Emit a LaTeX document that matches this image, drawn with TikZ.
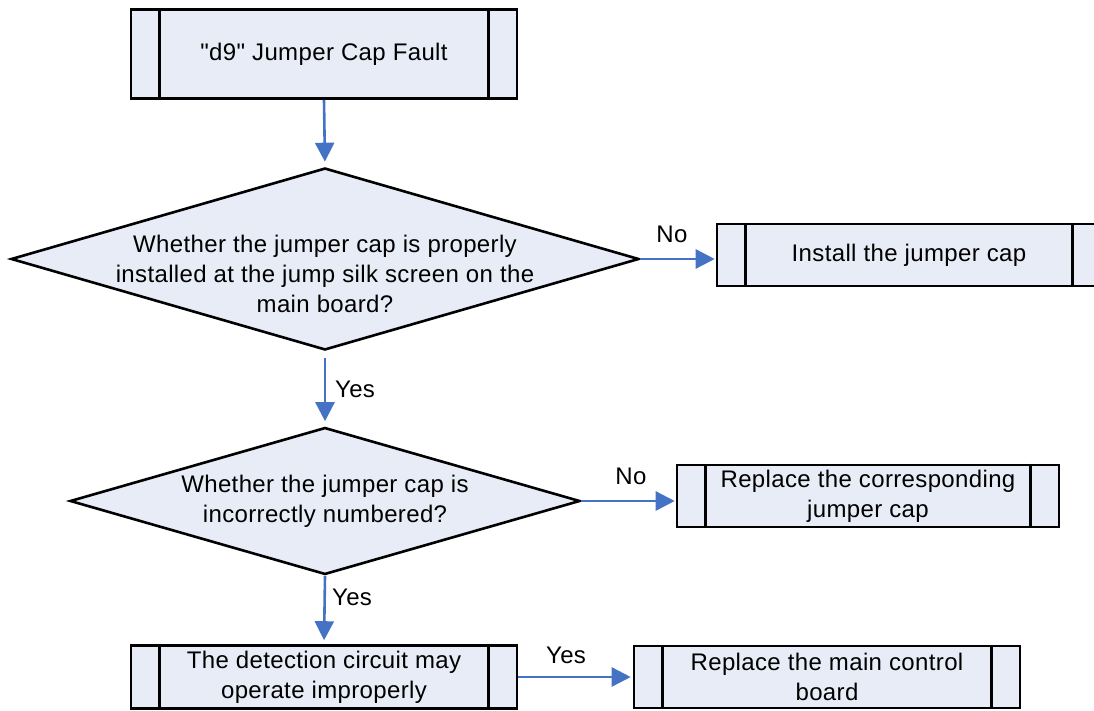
\documentclass[tikz,border=0pt]{standalone}
\usepackage{fontspec}
\setmainfont{Liberation Sans}[Ligatures=TeXOff, LetterSpace=1.5]
\usetikzlibrary{arrows.meta, shapes.geometric}
\usepackage{xcolor}
\definecolor{caixaazul}{RGB}{231, 236, 246}
\definecolor{setaazul}{RGB}{68, 114, 196}

\begin{document}
\begin{tikzpicture}[
    x=1pt, y=-1pt,
    every node/.style={font=\fontsize{24}{30}\selectfont, align=center},
    processo/.style={draw=black, line width=2.6pt, fill=caixaazul, inner sep=0pt},
    decisao/.style={diamond, draw=black, line width=2.6pt, fill=caixaazul, inner sep=0pt},
    seta/.style={draw=setaazul, line width=2.6pt, -{Triangle[length=19pt, width=19pt]}},
    rotulo/.style={inner sep=0pt}
]

\useasboundingbox (0,0) rectangle (1094,711);

% ------------------------------------------------
% Caixas de processo
% ------------------------------------------------

\node[
    processo,
    minimum width=386pt,
    minimum height=89pt
] (falha) at (324,54)
{"d9" Jumper Cap Fault};

\node[
    processo,
    minimum width=384pt,
    minimum height=62pt
] (instalar) at (909,255)
{Install the jumper cap};

\node[
    processo,
    minimum width=382pt,
    minimum height=62pt
] (substituir) at (868,496)
{Replace the corresponding\\jumper cap};

\node[
    processo,
    minimum width=386pt,
    minimum height=63pt
] (circuito) at (324,677)
{The detection circuit may\\operate improperly};

\node[
    processo,
    minimum width=386pt,
    minimum height=62pt
] (placa) at (827,677)
{Replace the main control\\board};

\foreach \caixa in {falha, instalar, substituir, circuito, placa} {
    \draw[line width=2.6pt] ([xshift=30pt]\caixa.north west) -- ([xshift=30pt]\caixa.south west);
    \draw[line width=2.6pt] ([xshift=-30pt]\caixa.north east) -- ([xshift=-30pt]\caixa.south east);
}

% ------------------------------------------------
% Decisões
% ------------------------------------------------

\node[
    decisao,
    minimum width=628pt,
    minimum height=182pt
] (pergunta1) at (325,259)
{};

\node (texto1) at (325,274)
{Whether the jumper cap is properly\\installed at the jump silk screen on the\\main board?};

\node[
    decisao,
    minimum width=510pt,
    minimum height=147pt
] (pergunta2) at (325,501)
{};

\node (texto2) at (325,501)
{Whether the jumper cap is\\incorrectly numbered?};

% ------------------------------------------------
% Setas e rótulos
% ------------------------------------------------

\draw[seta, shorten >=5pt] (falha.south) -- (pergunta1.north);
\draw[seta, shorten >=1pt] (pergunta1.east) -- (pergunta1.east -| instalar.west);
\draw[seta, shorten <=7pt, shorten >=5pt] (pergunta1.south) -- (pergunta2.north);
\draw[seta, shorten >=1pt] (pergunta2.east) -- (pergunta2.east -| substituir.west);
\draw[seta, shorten >=4pt] (pergunta2.south) -- (circuito.north);
\draw[seta, shorten >=2pt] (circuito.east) -- (placa.west);

\node[rotulo] (nao1) at (672,234) {No};
\node[rotulo] (sim1) at (355,389) {Yes};
\node[rotulo] (nao2) at (631,476) {No};
\node[rotulo] (sim2) at (352,597) {Yes};
\node[rotulo] (sim3) at (566,655) {Yes};

\end{tikzpicture}
\end{document}
